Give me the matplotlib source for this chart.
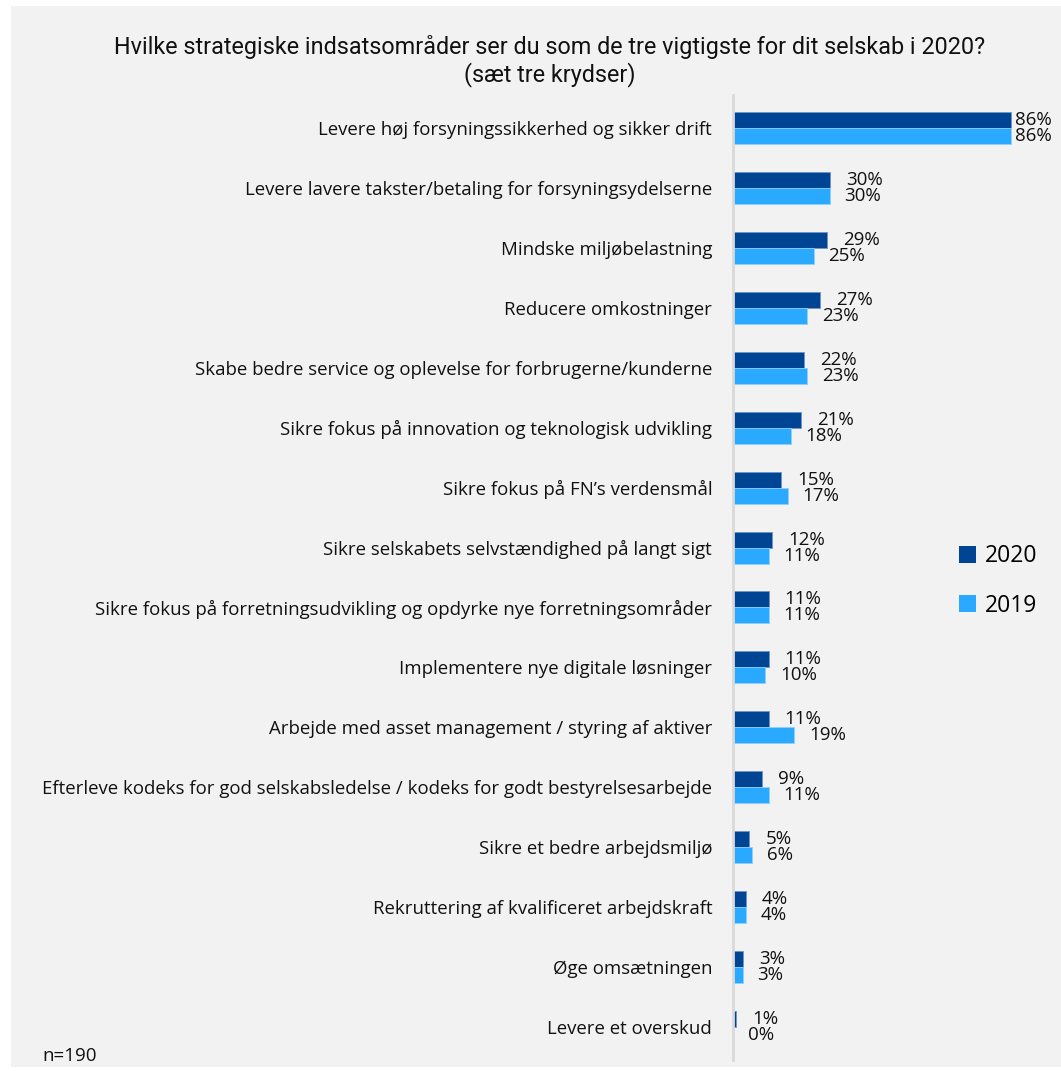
import matplotlib
matplotlib.use("Agg")
import matplotlib.pyplot as plt
from matplotlib.patches import Rectangle, Patch

categories = [
    "Levere høj forsyningssikkerhed og sikker drift",
    "Levere lavere takster/betaling for forsyningsydelserne",
    "Mindske miljøbelastning",
    "Reducere omkostninger",
    "Skabe bedre service og oplevelse for forbrugerne/kunderne",
    "Sikre fokus på innovation og teknologisk udvikling",
    "Sikre fokus på FN’s verdensmål",
    "Sikre selskabets selvstændighed på langt sigt",
    "Sikre fokus på forretningsudvikling og opdyrke nye forretningsområder",
    "Implementere nye digitale løsninger",
    "Arbejde med asset management / styring af aktiver",
    "Efterleve kodeks for god selskabsledelse / kodeks for godt bestyrelsesarbejde",
    "Sikre et bedre arbejdsmiljø",
    "Rekruttering af kvalificeret arbejdskraft",
    "Øge omsætningen",
    "Levere et overskud",
]
values_2020 = [86, 30, 29, 27, 22, 21, 15, 12, 11, 11, 11, 9, 5, 4, 3, 1]
values_2019 = [86, 30, 25, 23, 23, 18, 17, 11, 11, 10, 19, 11, 6, 4, 3, 0]
series_names = ["2020", "2019"]

c2020 = "#004494"
c2019 = "#29A9FF"
bg = "#F2F2F2"

W, H = 1061, 1071
fig = plt.figure(figsize=(W / 100, H / 100), dpi=100)
fig.patch.set_facecolor("white")
fig.patches.append(Rectangle((11 / W, 1 - 1067 / H), 1 - 11 / W, (1067 - 6) / H,
                             transform=fig.transFigure, facecolor=bg, edgecolor="none", zorder=-10))

label_font = ["Open Sans", "DejaVu Sans"]
title_font = ["Liberation Sans Narrow", "Roboto", "DejaVu Sans"]

ax = fig.add_axes([733 / W, 1 - 1057 / H, 1 - 733 / W, (1057 - 98) / H])
ax.set_facecolor("none")
ax.patch.set_alpha(0)

pos = list(range(len(categories)))
bh = 0.267
ax.barh([p - bh / 2 for p in pos], values_2020, height=bh, color=c2020,
        edgecolor="#6f93c7", linewidth=0.6)
ax.barh([p + bh / 2 for p in pos], values_2019, height=bh, color=c2019,
        edgecolor="#8fd0ff", linewidth=0.6)

ax.set_xlim(0, (W - 733) / 3.233)
ax.set_ylim(len(categories) - 0.5, -0.5)

for p, v in zip(pos, values_2020):
    ax.text(min(v + 5, 87.2), p - bh / 2, f"{v}%", va="center", ha="left",
            fontsize=13.5, family=label_font, color="#111111")
for p, v in zip(pos, values_2019):
    ax.text(min(v + 4.5, 87.2), p + bh / 2, f"{v}%", va="center", ha="left",
            fontsize=13.5, family=label_font, color="#111111")

ax.set_yticks(pos)
ax.set_yticklabels(categories, fontsize=13.4, family=label_font, color="#111111")
ax.tick_params(axis="y", length=0, pad=15)
ax.set_xticks([])
for s in ["top", "right", "bottom"]:
    ax.spines[s].set_visible(False)
ax.spines["left"].set_color("#D9D9D9")
ax.spines["left"].set_linewidth(2)
ax.spines["left"].set_bounds(len(categories) - 0.45, -0.55)

fig.text(550 / W, 1 - 47 / H, "Hvilke strategiske indsatsområder ser du som de tre vigtigste for dit selskab i 2020?",
         ha="center", va="center", fontsize=16.8, family=title_font, color="#111111")
fig.text(550 / W, 1 - 75 / H, "(sæt tre krydser)",
         ha="center", va="center", fontsize=16.8, family=title_font, color="#111111")

fig.text(42 / W, 1 - 1056 / H, "n=190", ha="left", va="center", fontsize=13.5,
         family=label_font, color="#111111")

handles = [Patch(facecolor=c2020), Patch(facecolor=c2019)]
fig.legend(handles, series_names, loc="center left", bbox_to_anchor=(938 / W, 1 - 581 / H),
           frameon=False, handlelength=0.75, handleheight=0.75, handletextpad=0.4,
           labelspacing=1.1, prop={"family": label_font, "size": 16.5})

fig.savefig("out.png", dpi=100, facecolor=fig.get_facecolor())
